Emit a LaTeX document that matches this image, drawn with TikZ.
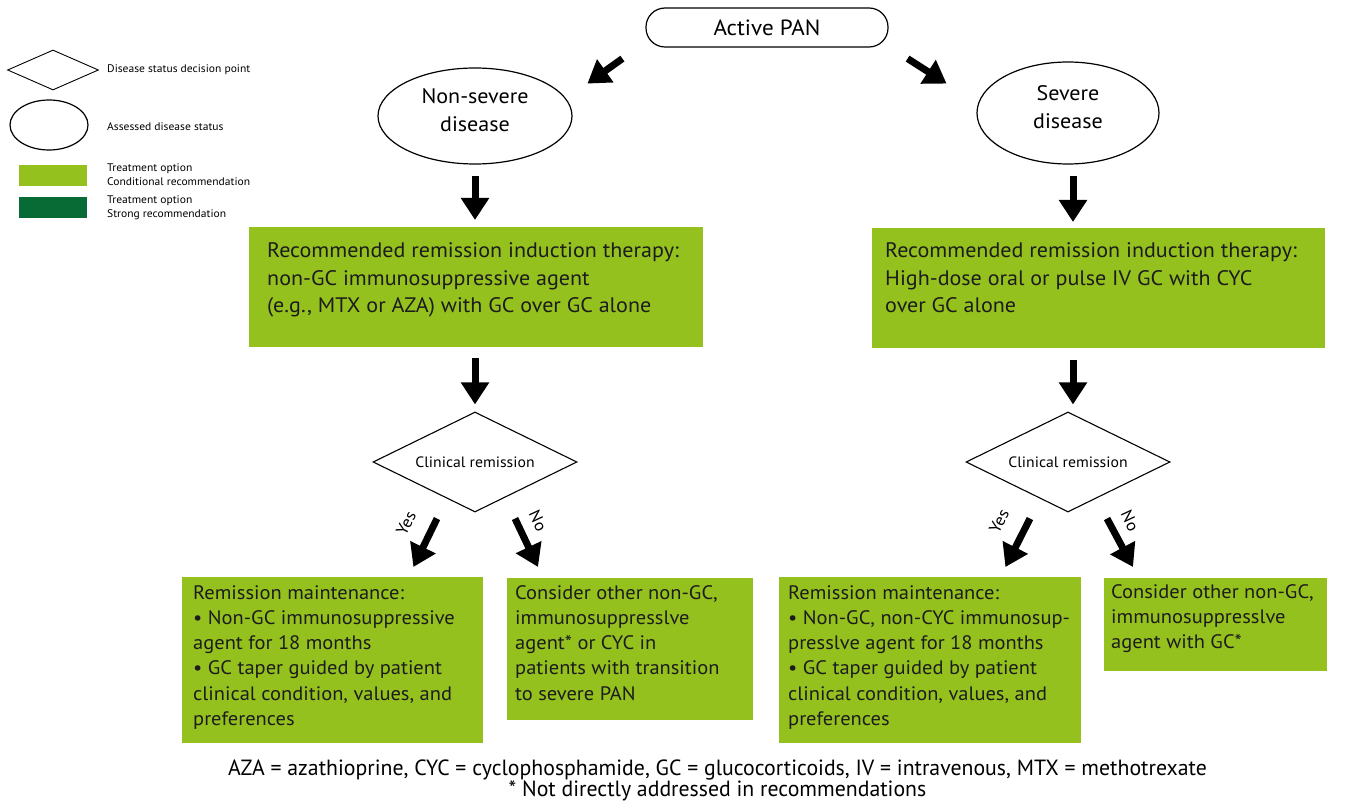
\documentclass[tikz,border=0pt]{standalone}
\usepackage{fontspec}
\setmainfont[FakeStretch=1.05]{PT Sans}
\newfontfamily\narrowfont[FakeStretch=0.99]{PT Sans}
\usetikzlibrary{shapes.geometric,arrows.meta,calc}
\definecolor{lgreen}{RGB}{149,193,31}
\definecolor{dgreen}{RGB}{8,106,52}
\definecolor{txt}{RGB}{28,28,28}
\newcommand{\gtxt}[4]{\parbox[c][#2][t]{#1}{\raggedright\vspace*{#3}\strut #4}}
\begin{document}
\begin{tikzpicture}[x=1pt,y=-1pt,
  bigarrow/.style={line width=7pt,-{Triangle[length=22pt,width=27pt]}},
  gbox/.style={fill=lgreen,draw=none,inner ysep=0pt,anchor=north west,text=txt},
  bigfont/.style={font=\fontsize{21}{27.5}\selectfont},
  smallfont/.style={font=\fontsize{19.5}{25.2}\selectfont},
  status/.style={ellipse,draw,line width=1.2pt,inner sep=0pt,align=center,text depth=12pt,font=\fontsize{21}{28}\selectfont},
  decision/.style={diamond,draw,line width=1.1pt,inner sep=0pt,aspect=2.04,font=\fontsize{15}{17}\selectfont},
  yn/.style={font=\fontsize{16.5}{18}\selectfont,inner sep=0pt},
  legtext/.style={anchor=west,align=left,inner sep=0pt,font=\fontsize{11}{13.8}\selectfont}]
\useasboundingbox (0,0) rectangle (1347,802);
\fill[white] (0,0) rectangle (1347,802);

% legend
\node[diamond,draw,line width=0.9pt,minimum width=91pt,minimum height=40pt,inner sep=0pt] (ldia) at (53,70) {};
\node[legtext] (ldiat) at (107,70) {Disease status decision point};
\node[ellipse,draw,line width=1.2pt,minimum width=78pt,minimum height=50pt,inner sep=0pt] (lell) at (49,125) {};
\node[legtext] (lellt) at (107,127) {Assessed disease status};
\node[fill=lgreen,minimum width=68pt,minimum height=21pt,inner sep=0pt,anchor=north west] (lcond) at (19,165) {};
\node[legtext] (lcondt) at (107,175) {Treatment option\\Conditional recommendation};
\node[fill=dgreen,minimum width=68pt,minimum height=21pt,inner sep=0pt,anchor=north west] (lstrong) at (19,197) {};
\node[legtext] (lstrongt) at (107,208) {Treatment option\\Strong recommendation};

% top
\node[draw,line width=1.2pt,rounded corners=19pt,minimum width=242pt,minimum height=39pt,inner sep=0pt,font=\fontsize{22}{24}\selectfont] (pan) at (767,27.5) {Active PAN};
\node[status,minimum width=194pt,minimum height=96pt] (ns) at (475,116) {Non-severe\\disease};
\node[status,minimum width=182pt,minimum height=102pt] (sv) at (1068,113) {Severe\\disease};

\draw[bigarrow] ([shift={(-23,11)}]pan.south west) -- ([shift={(-58,36)}]pan.south west);
\draw[bigarrow] ([shift={(19,11)}]pan.south east) -- ([shift={(58,36)}]pan.south east);

% induction boxes
\node[gbox,inner xsep=18pt,bigfont] (b1) at (249,227) {\gtxt{418pt}{120pt}{11.2pt}{Recommended remission induction therapy:\\non-GC immunosuppressive agent\\(e.g., MTX or AZA) with GC over GC alone}};
\node[gbox,inner xsep=13pt,bigfont] (b2) at (872,228) {\gtxt{427pt}{120pt}{10.2pt}{Recommended remission induction therapy:\\High-dose oral or pulse IV GC with CYC\\over GC alone}};

\draw[bigarrow,shorten <=11pt,shorten >=7pt] (ns.south) -- (ns.south |- b1.north);
\draw[bigarrow,shorten <=11pt,shorten >=6pt] ([xshift=5pt]sv.south) -- ([xshift=5pt]sv.south |- b2.north);

% decisions
\node[decision,minimum width=204pt,minimum height=100pt] (d1) at (475,462) {Clinical remission};
\node[decision,minimum width=204pt,minimum height=100pt] (d2) at (1068,462) {Clinical remission};

\draw[bigarrow,shorten <=11pt,shorten >=7pt] (d1.north |- b1.south) -- (d1.north);
\draw[bigarrow,shorten <=12pt,shorten >=7pt] ([xshift=5pt]d2.north |- b2.south) -- ([xshift=5pt]d2.north);

% outcome boxes
\node[gbox,inner xsep=11pt,smallfont] (m1) at (182,577) {\gtxt{279pt}{166pt}{4.4pt}{Remission maintenance:\\\textbullet{} Non-GC immunosuppressive\\agent for 18 months\\\textbullet{} GC taper guided by patient\\clinical condition, values, and\\preferences}};
\node[gbox,inner xsep=8pt,smallfont] (n1) at (507,578) {\gtxt{230pt}{142pt}{3.4pt}{Consider other non-GC,\\immunosuppresslve\\agent* or CYC in\\patients with transition\\to severe PAN}};
\node[gbox,inner xsep=9pt,smallfont] (m2) at (779,577) {\gtxt{284pt}{166pt}{4.4pt}{Remission maintenance:\\\textbullet{} Non-GC, non-CYC immunosup-\\presslve agent for 18 months\\\textbullet{} GC taper guided by patient\\clinical condition, values, and\\preferences}};
\node[gbox,inner xsep=7pt,smallfont] (n2) at (1104,578) {\gtxt{209pt}{93pt}{2.4pt}{Consider other non-GC,\\immunosuppresslve\\agent with GC*}};

% yes / no arrows
\draw[bigarrow] ([shift={(-38,6)}]d1.south) -- ([shift={(-70,-10)}]m1.north east);
\draw[bigarrow] ([shift={(40,6)}]d1.south) -- ([shift={(31,-11)}]n1.north west);
\draw[bigarrow] ([shift={(-38,6)}]d2.south) -- ([shift={(-76,-10)}]m2.north east);
\draw[bigarrow] ([shift={(39,6)}]d2.south) -- ([shift={(29,-11)}]n2.north west);

\node[yn,rotate=63] (y1) at (406,523) {Yes};
\node[yn,rotate=-65] (no1) at (538,521) {No};
\node[yn,rotate=63] (y2) at (999,521) {Yes};
\node[yn,rotate=-65] (no2) at (1130,521) {No};

% footer
\node[align=center,inner sep=0pt,font=\narrowfont\fontsize{22}{21.5}\selectfont] (foot) at (717.5,780.5) {AZA = azathioprine, CYC = cyclophosphamide, GC = glucocorticoids, IV = intravenous, MTX = methotrexate\\* Not directly addressed in recommendations};
\end{tikzpicture}
\end{document}
